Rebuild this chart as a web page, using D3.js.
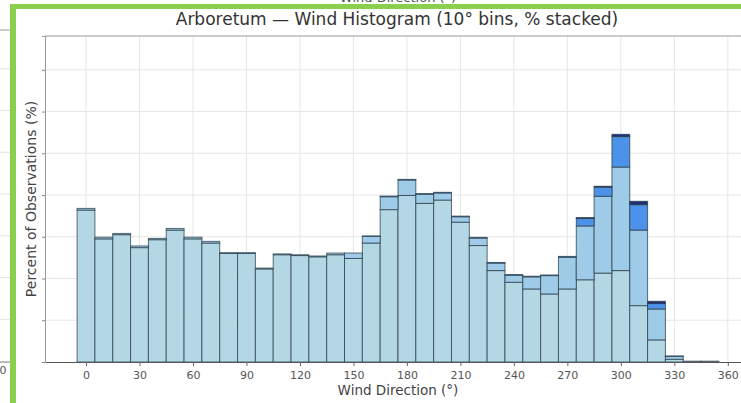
<!DOCTYPE html>
<html lang="en">
	<head>
		<meta charset="utf-8">
		<title>Arboretum wind histogram</title>
		<script src="https://cdn.jsdelivr.net/npm/d3@7"></script>
		<style>
			html, body { margin: 0; padding: 0; background: #fff; }
			svg { display: block; font-family: "DejaVu Sans", sans-serif; }
		</style>
	</head>
	<body>
		<script type="text/javascript">

			// 10° bins, centre of each bin
			const bins = [0, 10, 20, 30, 40, 50, 60, 70, 80, 90, 100, 110, 120, 130, 140, 150, 160, 170,
				180, 190, 200, 210, 220, 230, 240, 250, 260, 270, 280, 290, 300, 310, 320, 330, 340, 350];

			// percent of observations per speed class (stacked bottom -> top)
			const speedLow = [3.64, 2.95, 3.05, 2.74, 2.93, 3.16, 2.95, 2.85, 2.60, 2.60, 2.23, 2.57, 2.55, 2.52, 2.57, 2.48, 2.85, 3.65,
				3.99, 3.80, 3.88, 3.35, 2.79, 2.19, 1.91, 1.75, 1.63, 1.75, 1.97, 2.13, 2.19, 1.35, 0.53, 0.065, 0.02, 0.02];
			const speedMid = [0.04, 0.04, 0.03, 0.04, 0.03, 0.04, 0.04, 0.04, 0.02, 0.02, 0.02, 0.02, 0.02, 0.02, 0.04, 0.13, 0.16, 0.31,
				0.37, 0.22, 0.17, 0.13, 0.18, 0.18, 0.17, 0.29, 0.44, 0.76, 1.29, 1.84, 2.48, 1.81, 0.74, 0.07, 0, 0];
			const speedHigh = [0, 0, 0, 0, 0, 0, 0, 0, 0, 0, 0, 0, 0, 0, 0, 0, 0.01, 0.015,
				0.015, 0.015, 0.015, 0.015, 0.015, 0.015, 0.015, 0.015, 0.015, 0.02, 0.18, 0.22, 0.73, 0.61, 0.13, 0.01, 0, 0];
			const speedMax = [0, 0, 0, 0, 0, 0, 0, 0, 0, 0, 0, 0, 0, 0, 0, 0, 0, 0,
				0, 0, 0, 0, 0, 0, 0, 0, 0, 0, 0.02, 0.02, 0.055, 0.08, 0.055, 0, 0, 0];

			const keys = ["low", "mid", "high", "max"];
			const colors = ["#b4d7e5", "#9dcbe8", "#4d92e9", "#1d2f7a"];

			const xTicks = [0, 30, 60, 90, 120, 150, 180, 210, 240, 270, 300, 330, 360];
			const yTicks = [0, 1, 2, 3, 4, 5, 6, 7];

			drawChart();

			function drawChart(){
				const width = 741;
				const height = 403;
				const marginTop = 36;
				const marginLeft = 45;
				const bottom = 362;

				const data = bins.map((b, i) => ({
					dir: b, low: speedLow[i], mid: speedMid[i], high: speedHigh[i], max: speedMax[i]
				}));

				const series = d3.stack().keys(keys)(data);

				// matplotlib style 5% margins around -5..355
				const x = d3.scaleLinear()
					.domain([-23, 373])
					.range([marginLeft, 751]);

				const y = d3.scaleLinear()
					.domain([0, 7.81])
					.range([bottom, marginTop]);

				const svg = d3.select("body").append("svg")
					.attr("width", width)
					.attr("height", height)
					.attr("viewBox", [0, 0, width, height]);

				// bits of the neighbouring chart left of the frame
				const ghost = svg.append("g");
				ghost.selectAll("line")
					.data(yTicks.slice(1))
					.join("line")
					.attr("x1", 0).attr("x2", 10)
					.attr("y1", d => y(d) - 1).attr("y2", d => y(d) - 1)
					.attr("stroke", "#e4e4e4");
				ghost.append("line")
					.attr("x1", 0).attr("x2", 10).attr("y1", 30).attr("y2", 30)
					.attr("stroke", "#999");
				ghost.append("line")
					.attr("x1", 0).attr("x2", 10).attr("y1", bottom).attr("y2", bottom)
					.attr("stroke", "#777");
				ghost.append("text")
					.attr("x", 3).attr("y", 374)
					.attr("text-anchor", "middle")
					.attr("fill", "#555")
					.style("font-size", "11px")
					.text("0");
				ghost.append("text")
					.attr("x", 398).attr("y", 2)
					.attr("text-anchor", "middle")
					.attr("fill", "#555")
					.style("font-size", "13px")
					.text("Wind Direction (°)");

				// grid
				svg.append("g")
					.selectAll("line")
					.data(xTicks)
					.join("line")
					.attr("x1", d => x(d)).attr("x2", d => x(d))
					.attr("y1", marginTop).attr("y2", bottom)
					.attr("stroke", "#e6e6e6");
				svg.append("g")
					.selectAll("line")
					.data(yTicks.slice(1))
					.join("line")
					.attr("x1", marginLeft).attr("x2", width)
					.attr("y1", d => y(d)).attr("y2", d => y(d))
					.attr("stroke", "#e6e6e6");

				// stacked bars
				svg.append("g")
					.selectAll("g")
					.data(series)
					.join("g")
					.attr("fill", (d, i) => colors[i])
					.selectAll("rect")
					.data(d => d.filter(p => p[1] - p[0] > 0))
					.join("rect")
					.attr("x", d => x(d.data.dir - 5))
					.attr("width", d => x(d.data.dir + 5) - x(d.data.dir - 5))
					.attr("y", d => y(d[1]))
					.attr("height", d => y(d[0]) - y(d[1]))
					.attr("stroke", "#2c3e48")
					.attr("stroke-opacity", 0.75)
					.attr("stroke-width", 1);

				// spines
				svg.append("line")
					.attr("x1", marginLeft).attr("x2", width)
					.attr("y1", marginTop).attr("y2", marginTop)
					.attr("stroke", "#999");

				svg.append("g")
					.attr("transform", `translate(0,${bottom})`)
					.call(d3.axisBottom(x).tickValues(xTicks).tickSize(4).tickPadding(5).tickSizeOuter(0))
					.call(g => g.select(".domain").attr("stroke", "#555"))
					.call(g => g.selectAll(".tick line").attr("stroke", "#666"))
					.call(g => g.selectAll(".tick text").attr("fill", "#555").style("font-size", "11px")
						.style("font-family", "DejaVu Sans, sans-serif"));

				svg.append("g")
					.attr("transform", `translate(${marginLeft},0)`)
					.call(d3.axisLeft(y).tickValues(yTicks).tickSize(3).tickFormat(""))
					.call(g => g.select(".domain").attr("stroke", "#999"))
					.call(g => g.selectAll(".tick line").attr("stroke", "#888"));

				// texts
				svg.append("text")
					.attr("x", 397)
					.attr("y", 25)
					.attr("text-anchor", "middle")
					.attr("fill", "#333")
					.style("font-size", "17px")
					.text("Arboretum — Wind Histogram (10° bins, % stacked)");

				svg.append("text")
					.attr("x", 398)
					.attr("y", 395)
					.attr("text-anchor", "middle")
					.attr("fill", "#444")
					.style("font-size", "13.5px")
					.text("Wind Direction (°)");

				svg.append("text")
					.attr("transform", `translate(36,${(marginTop + bottom) / 2}) rotate(-90)`)
					.attr("text-anchor", "middle")
					.attr("fill", "#444")
					.style("font-size", "14px")
					.text("Percent of Observations (%)");

				// green frame of the screenshot
				svg.append("rect")
					.attr("x", 10).attr("y", 4).attr("width", 6).attr("height", height)
					.attr("fill", "#8bcf4f");
				svg.append("rect")
					.attr("x", 10).attr("y", 4).attr("width", width).attr("height", 5)
					.attr("fill", "#8bcf4f");
			}

		</script>
	</body>
</html>
